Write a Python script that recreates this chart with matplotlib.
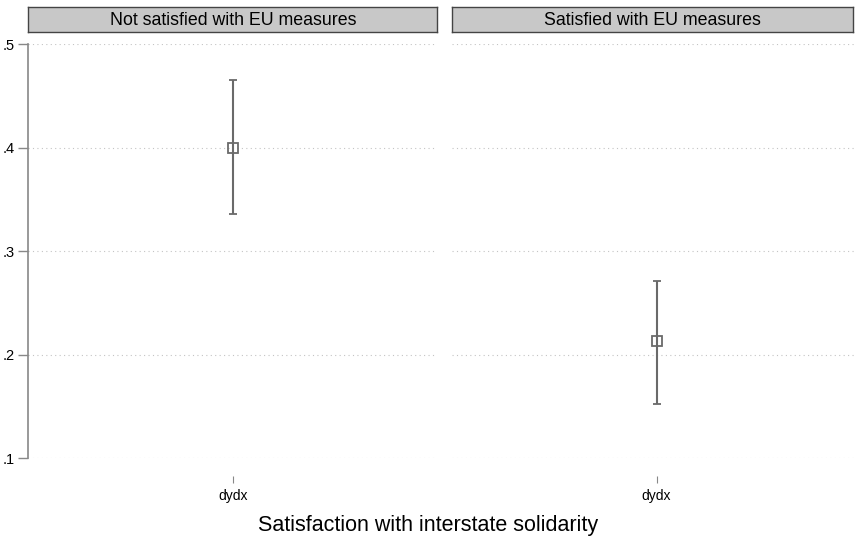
import matplotlib.pyplot as plt

panels = ['Not satisfied with EU measures', 'Satisfied with EU measures']
estimates = [0.400, 0.213]
ci_low = [0.336, 0.152]
ci_high = [0.465, 0.271]
xlabels = ['dydx']
yticks = [0.1, 0.2, 0.3, 0.4, 0.5]
yticklabels = ['.1', '.2', '.3', '.4', '.5']

fig = plt.figure(figsize=(8.56, 5.37), dpi=100)
plt.rcParams['font.family'] = ['Liberation Sans', 'DejaVu Sans']

lefts = [0.033, 0.528]
width = 0.478
bottom, height = 0.147, 0.771

for i, name in enumerate(panels):
    ax = fig.add_axes([lefts[i], bottom, width, height])
    est = estimates[i]
    yerr = [[est - ci_low[i]], [ci_high[i] - est]]
    ax.errorbar([0], [est], yerr=yerr, fmt='s', color='#6a6a6a', ecolor='#6a6a6a',
                elinewidth=1.5, capsize=3, capthick=1.5, markersize=6.5,
                markerfacecolor='none', markeredgecolor='#6a6a6a', markeredgewidth=1.3)
    ax.set_xlim(-1, 1)
    ax.set_ylim(0.1, 0.5)
    ax.set_xticks([0])
    ax.set_xticklabels(xlabels, fontsize=10)
    ax.set_yticks(yticks)
    ax.yaxis.grid(True, linestyle=(0, (1, 3)), color='#c4c4c4', linewidth=0.8)
    ax.set_axisbelow(True)
    for s in ['top', 'right']:
        ax.spines[s].set_visible(False)
    ax.spines['bottom'].set_position(('outward', 13))
    ax.spines['bottom'].set_visible(False)
    ax.tick_params(axis='x', length=5, color='#888888', width=0.8, pad=4)
    if i == 0:
        ax.set_yticklabels(yticklabels, fontsize=10.5)
        ax.spines['left'].set_color('#888888')
        ax.spines['left'].set_linewidth(1.2)
        ax.tick_params(axis='y', length=7, color='#888888', width=1.0, pad=3)
    else:
        ax.spines['left'].set_visible(False)
        ax.tick_params(axis='y', left=False, labelleft=False)

    # strip header above each panel
    hx = fig.add_axes([lefts[i], 0.940, width if i == 0 else 0.468, 0.047])
    hx.set_facecolor('#c8c8c8')
    hx.set_xticks([])
    hx.set_yticks([])
    for s in hx.spines.values():
        s.set_color('#444444')
        s.set_linewidth(1.0)
    hx.text(0.5, 0.48, name, ha='center', va='center', fontsize=12.8, transform=hx.transAxes)

fig.text(0.5, 0.022, 'Satisfaction with interstate solidarity', ha='center', va='center', fontsize=15.5)

fig.savefig('out.png', dpi=100)
